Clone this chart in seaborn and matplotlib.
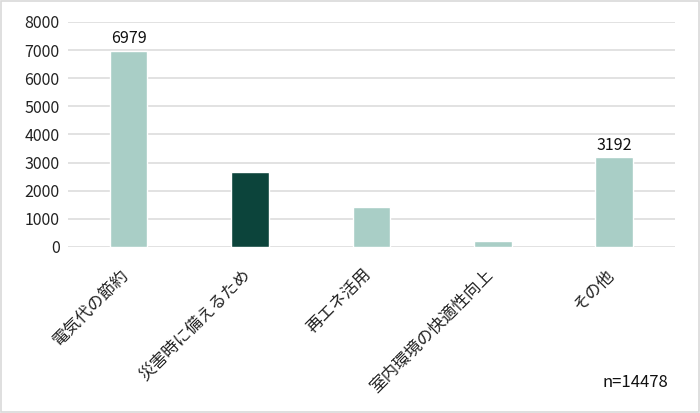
import matplotlib
matplotlib.use("Agg")
import matplotlib.pyplot as plt
import matplotlib.transforms as mtransforms
import seaborn as sns
import pandas as pd

categories = ["電気代の節約", "災害時に備えるため", "再エネ活用", "室内環境の快適性向上", "その他"]
counts = [6979, 2680, 1410, 210, 3192]
labelled = [6979, None, None, None, 3192]
bar_colors = ["#A9CEC6", "#0C443B", "#A9CEC6", "#A9CEC6", "#A9CEC6"]
yticks = [0, 1000, 2000, 3000, 4000, 5000, 6000, 7000, 8000]
note = "n=14478"

sns.set_style("white")
plt.rcParams["font.family"] = ["Noto Sans CJK JP", "DejaVu Sans"]

df = pd.DataFrame({"category": categories, "count": counts})

fig = plt.figure(figsize=(7.0, 4.13), dpi=100)
ax = fig.add_axes([0.097, 0.402, 0.867, 0.545])

sns.barplot(data=df, x="category", y="count", hue="category",
            palette=bar_colors, saturation=1, legend=False, width=0.31,
            ax=ax, zorder=3)

ax.set_ylim(0, 8000)
ax.set_yticks(yticks)
ax.set_yticklabels([str(t) for t in yticks], fontsize=11.5, color="#222222")
ax.yaxis.grid(True, color="#DDDDDD", linewidth=1.2, zorder=0)
ax.set_axisbelow(True)
ax.set_xlabel("")
ax.set_ylabel("")
ax.tick_params(axis="both", length=0)
ax.tick_params(axis="y", pad=6)
for s in ax.spines.values():
    s.set_visible(False)

ax.set_xticks(range(len(categories)))
ax.set_xticklabels(categories, rotation=45, ha="right", rotation_mode="anchor",
                   fontsize=12, color="#222222")
ax.tick_params(axis="x", pad=14)
# nudge the rotated labels slightly left, as in the reference
shift = mtransforms.ScaledTranslation(-6 / 72, 0, fig.dpi_scale_trans)
for lbl in ax.get_xticklabels():
    lbl.set_transform(lbl.get_transform() + shift)

for i, v in enumerate(labelled):
    if v is not None:
        ax.text(i, v + 120, str(v), ha="center", va="bottom", fontsize=11.5,
                color="#111111")

fig.text(0.955, 0.075, note, ha="right", va="center", fontsize=12, color="#111111")

border = plt.Rectangle((0.002, 0.003), 0.996, 0.994, transform=fig.transFigure,
                       fill=False, edgecolor="#D9D9D9", linewidth=1.2)
fig.patches.append(border)

fig.savefig("out.png", dpi=100)
